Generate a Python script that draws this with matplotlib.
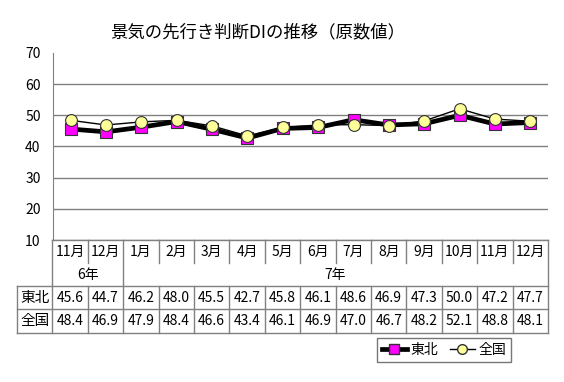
import matplotlib
matplotlib.use('Agg')
import matplotlib.pyplot as plt
from matplotlib.lines import Line2D

plt.rcParams['font.family'] = ['Noto Sans CJK JP', 'DejaVu Sans']

months = ['11月', '12月', '1月', '2月', '3月', '4月', '5月', '6月', '7月',
          '8月', '9月', '10月', '11月', '12月']
years = ['6年', '7年']
year_spans = [(0, 1), (2, 13)]
tohoku = [45.6, 44.7, 46.2, 48.0, 45.5, 42.7, 45.8, 46.1, 48.6, 46.9, 47.3, 50.0, 47.2, 47.7]
zenkoku = [48.4, 46.9, 47.9, 48.4, 46.6, 43.4, 46.1, 46.9, 47.0, 46.7, 48.2, 52.1, 48.8, 48.1]
yticks = [10, 20, 30, 40, 50, 60, 70]

W, H = 564, 382
fig = plt.figure(figsize=(W / 100, H / 100), dpi=100)
x = list(range(len(months)))
n = len(months)

# chart area
ax = fig.add_axes([53 / W, (H - 240) / H, 495 / W, 187 / H])
ax.plot(x, tohoku, color='black', lw=3.4, marker='s', ms=8,
        mfc='#ff00ff', mec='#333333', mew=0.8, zorder=3)
ax.plot(x, zenkoku, color='black', lw=1.0, marker='o', ms=8.5,
        mfc='#ffff99', mec='#333333', mew=0.8, zorder=4)
ax.set_xlim(-0.5, n - 0.5)
ax.set_ylim(10, 70)
ax.set_yticks(yticks)
for t in yticks[:-1]:
    ax.axhline(t, color='#808080', lw=1.0, zorder=1)
ax.set_xticks([])
ax.tick_params(axis='y', length=0, labelsize=10, pad=20)
for lab in ax.get_yticklabels():
    lab.set_horizontalalignment('left')
for s in ['top', 'right', 'bottom']:
    ax.spines[s].set_visible(False)
ax.spines['left'].set_color('#808080')

fig.text(258 / W, 1 - 32 / H, '景気の先行き判断DIの推移（原数値）',
         ha='center', va='center', fontsize=12.5)

# data table under the chart
tb = fig.add_axes([17 / W, (H - 333) / H, 531 / W, 93 / H])
tb.set_xlim(-1.5, n - 0.5)
tb.set_ylim(93, 0)
tb.axis('off')
gc = '#808080'
kw = dict(color=gc, lw=1.0, clip_on=False)
tb.plot([-0.5, n - 0.5], [0, 0], **kw)
for yy in [46, 69, 93]:
    tb.plot([-1.5, n - 0.5], [yy, yy], **kw)
tb.plot([-1.5, -1.5], [46, 93], **kw)
tb.plot([-0.5, -0.5], [0, 93], **kw)
tb.plot([n - 0.5, n - 0.5], [0, 93], **kw)
year_edges = [e + 0.5 for _, e in year_spans[:-1]]
for i in range(n - 1):
    xe = i + 0.5
    if xe in year_edges:
        tb.plot([xe, xe], [0, 93], **kw)
    else:
        tb.plot([xe, xe], [0, 23], **kw)
        tb.plot([xe, xe], [46, 93], **kw)

fs = 10
for i, m in enumerate(months):
    tb.text(i, 12, m, ha='center', va='center', fontsize=fs)
    tb.text(i, 58, f'{tohoku[i]:.1f}', ha='center', va='center', fontsize=fs)
    tb.text(i, 81, f'{zenkoku[i]:.1f}', ha='center', va='center', fontsize=fs)
for yl, (a, b) in zip(years, year_spans):
    tb.text((a + b) / 2, 35, yl, ha='center', va='center', fontsize=fs)
tb.text(-1, 58, '東北', ha='center', va='center', fontsize=fs + 0.5)
tb.text(-1, 81, '全国', ha='center', va='center', fontsize=fs + 0.5)

handles = [Line2D([], [], color='black', lw=3.4, marker='s', ms=7, mfc='#ff00ff', mec='#333333'),
           Line2D([], [], color='black', lw=1.0, marker='o', ms=7, mfc='#ffff99', mec='#333333')]
leg = fig.legend(handles, ['東北', '全国'], loc='center',
                 bbox_to_anchor=(444 / W, 1 - 350 / H), ncol=2, fontsize=10,
                 frameon=True, fancybox=False, handlelength=1.8, handletextpad=0.3,
                 columnspacing=0.8, borderpad=0.35)
leg.get_frame().set_edgecolor('#555555')
leg.get_frame().set_linewidth(1.0)

fig.savefig('out.png', dpi=100)
